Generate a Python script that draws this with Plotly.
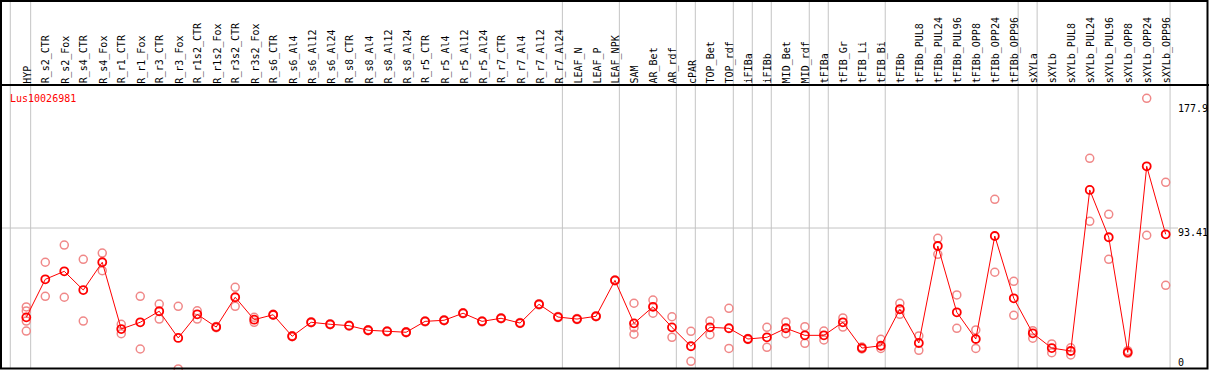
import plotly.graph_objects as go

W, H = 1209, 370

categories = ["HYP", "R_s2_CTR", "R_s2_Fox", "R_s4_CTR", "R_s4_Fox", "R_r1_CTR", "R_r1_Fox",
              "R_r3_CTR", "R_r3_Fox", "R_r1s2_CTR", "R_r1s2_Fox", "R_r3s2_CTR", "R_r3s2_Fox",
              "R_s6_CTR", "R_s6_Al4", "R_s6_Al12", "R_s6_Al24", "R_s8_CTR", "R_s8_Al4", "R_s8_Al12",
              "R_s8_Al24", "R_r5_CTR", "R_r5_Al4", "R_r5_Al12", "R_r5_Al24", "R_r7_CTR", "R_r7_Al4",
              "R_r7_Al12", "R_r7_Al24", "LEAF_N", "LEAF_P", "LEAF_NPK", "SAM", "AR_Bet", "AR_rdf",
              "cPAR", "TOP_Bet", "TOP_rdf", "iFIBa", "iFIBb", "MID_Bet", "MID_rdf", "tFIBa",
              "tFIB_Gr", "tFIB_Li", "tFIB_Bi", "tFIBb", "tFIBb_PUL8", "tFIBb_PUL24", "tFIBb_PUL96",
              "tFIBb_OPP8", "tFIBb_OPP24", "tFIBb_OPP96", "sXYLa", "sXYLb", "sXYLb_PUL8",
              "sXYLb_PUL24", "sXYLb_PUL96", "sXYLb_OPP8", "sXYLb_OPP24", "sXYLb_OPP96"]

means = [35.2, 60.0, 65.2, 53.0, 71.1, 27.6, 32.0, 39.2, 21.8, 37.2, 28.9, 48.3, 33.7,
         36.9, 22.9, 32.0, 30.7, 29.8, 26.8, 26.1, 25.5, 32.6, 33.3, 37.9, 32.6, 34.6, 31.5,
         43.7, 35.4, 34.1, 35.9, 59.3, 31.3, 42.1, 28.7, 16.4, 28.7, 28.1, 21.1, 22.2, 28.1,
         23.5, 23.5, 32.0, 15.2, 16.7, 40.5, 18.5, 81.7, 38.5, 21.1, 88.2, 47.6, 24.8, 15.2,
         13.3, 118.2, 87.4, 12.4, 133.6, 89.3]

replicates = [[42.0, 39.4, 32.8, 26.3], [71.1, 48.9], [82.3, 48.3], [73.0, 32.8], [77.1, 65.6],
              [30.7, 24.6], [48.9, 14.6], [43.9, 34.1], [42.4, 1.6], [39.5, 34.1], [29.3, 28.5],
              [54.8, 42.4], [35.2, 32.0], [37.2, 36.6], [23.2, 22.6], [32.3, 31.7], [31.0, 30.4],
              [30.1, 29.5], [27.1, 26.5], [26.4, 25.8], [25.8, 25.2], [32.9, 32.3], [33.6, 33.0],
              [38.2, 37.6], [32.9, 32.3], [34.9, 34.3], [31.8, 31.2], [44.0, 43.4], [35.7, 35.1],
              [34.4, 33.8], [36.2, 35.6], [59.6, 59.0], [44.4, 28.5, 24.2], [46.5, 37.9],
              [35.6, 22.2], [26.1, 6.6], [32.8, 23.9], [41.1, 15.0], [21.4, 20.8], [28.7, 15.7],
              [32.2, 24.6], [29.1, 18.3], [26.3, 20.5], [34.8, 28.9], [15.9, 14.6], [20.9, 15.0],
              [44.4, 37.2], [23.1, 13.7], [86.7, 76.3], [49.8, 28.1], [27.0, 15.0], [112.1, 64.6],
              [58.7, 36.5], [26.5, 21.6], [17.9, 12.2], [15.4, 10.7], [138.8, 97.8], [102.3, 73.0],
              [13.5, 11.8], [177.9, 88.7], [123.2, 56.1]]

gene_name = "Lus10026981"
axis_tick_values = [177.9, 93.41, 0]
axis_tick_labels = ["177.9", "93.41", "0"]
separator_after = [0, 28, 31, 34, 35, 37, 38, 39, 41, 42, 45, 52, 53, 60]

rep_x, rep_y = [], []
for c, vals in zip(categories, replicates):
    for v in vals:
        rep_x.append(c)
        rep_y.append(v)

# pixel geometry
x_first_px, x_step_px = 26.3, 18.99
y_zero_px, y_scale = 371.4, 1.535
xr = [-x_first_px / x_step_px, (W - x_first_px) / x_step_px]
yr = [(y_zero_px - H) / y_scale, y_zero_px / y_scale]

def py(px):
    return 1 - px / H

def pxx(px):
    return px / W

fig = go.Figure()
fig.add_trace(go.Scatter(x=rep_x, y=rep_y, mode="markers",
                         marker=dict(symbol="circle-open", size=8, color="#f08888",
                                     line=dict(width=1.5, color="#f08888")),
                         hoverinfo="skip", showlegend=False))
fig.add_trace(go.Scatter(x=categories, y=means, mode="lines+markers",
                         line=dict(color="#ff0000", width=1),
                         marker=dict(symbol="circle-open", size=8, color="#ff0000",
                                     line=dict(width=1.8, color="#ff0000")),
                         showlegend=False))

shapes = []
grey = "#c4c4c4"
seps = [-0.843] + [i + 0.23 for i in separator_after]
for s in seps:
    shapes.append(dict(type="line", xref="x", yref="paper", x0=s, x1=s, y0=py(369), y1=py(1),
                       line=dict(color=grey, width=1), layer="below"))
# gridline at middle tick
shapes.append(dict(type="line", xref="paper", yref="y", x0=0, x1=pxx(1178),
                   y0=axis_tick_values[1], y1=axis_tick_values[1],
                   line=dict(color=grey, width=1), layer="below"))
# header separator
shapes.append(dict(type="line", xref="paper", yref="paper", x0=0, x1=1, y0=py(85), y1=py(85),
                   line=dict(color="black", width=2)))
# frame
shapes.append(dict(type="rect", xref="paper", yref="paper", x0=pxx(1), x1=pxx(1207.5),
                   y0=py(368.5), y1=py(1), line=dict(color="black", width=2)))

mono = "DejaVu Sans Mono"
annotations = []
for c in categories:
    annotations.append(dict(x=c, xref="x", y=py(84.5), yref="paper", text=c, textangle=-90,
                            showarrow=False, xanchor="center", yanchor="bottom", xshift=1,
                            font=dict(family=mono, size=10, color="black"), borderpad=0))
annotations.append(dict(x=pxx(9), xref="paper", y=py(99), yref="paper", text=gene_name,
                        showarrow=False, xanchor="left", yanchor="middle",
                        font=dict(family=mono, size=10, color="#ff0000"), borderpad=0))
label_px = [108, 232.5, 362]
for v, t, p in zip(axis_tick_values, axis_tick_labels, label_px):
    annotations.append(dict(x=pxx(1177), xref="paper", y=py(p), yref="paper", text=t,
                            showarrow=False, xanchor="left", yanchor="middle",
                            font=dict(family=mono, size=10, color="black"), borderpad=0))

fig.update_layout(width=W, height=H, margin=dict(l=0, r=0, t=0, b=0),
                  paper_bgcolor="white", plot_bgcolor="white",
                  xaxis=dict(type="category", range=xr, showgrid=False, showticklabels=False,
                             zeroline=False, showline=False, ticks="", fixedrange=True),
                  yaxis=dict(range=yr, showgrid=False, showticklabels=False, zeroline=False,
                             showline=False, ticks="", fixedrange=True),
                  shapes=shapes, annotations=annotations, showlegend=False)

fig.write_html("out.html", config={"displayModeBar": False},
               post_script="document.body.style.margin='0';")
